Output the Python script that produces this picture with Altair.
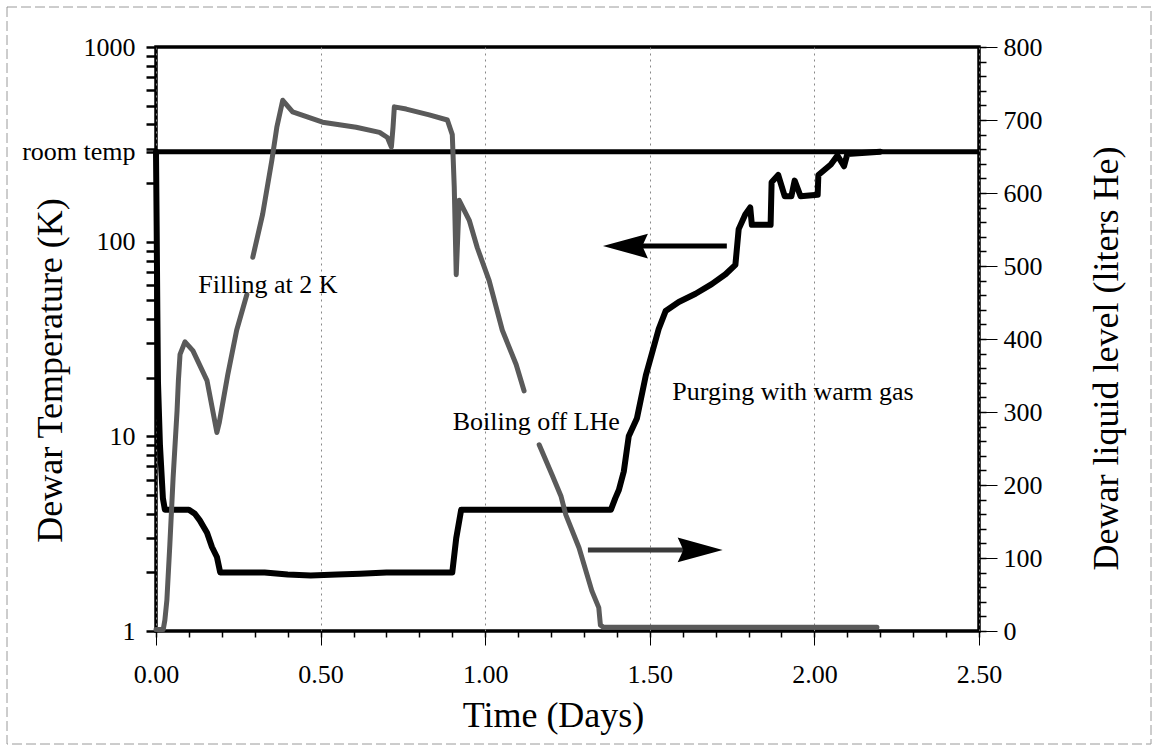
import altair as alt
import pandas as pd

# ---------------- data ----------------
# Dewar temperature (K), left log axis -- black curve
temp_days = [0.000, 0.002, 0.004, 0.006, 0.012, 0.021, 0.027, 0.060, 0.100, 0.118,
             0.133, 0.155, 0.170, 0.185, 0.195, 0.260, 0.330, 0.400, 0.470, 0.550,
             0.620, 0.700, 0.780, 0.850, 0.900, 0.912, 0.927, 1.000, 1.200, 1.382,
             1.395, 1.406, 1.421, 1.436, 1.461, 1.488, 1.510, 1.527, 1.548, 1.588,
             1.639, 1.688, 1.730, 1.760, 1.770, 1.790, 1.805, 1.810, 1.867, 1.870,
             1.890, 1.910, 1.930, 1.940, 1.958, 2.010, 2.012, 2.050, 2.070, 2.090,
             2.100, 2.200]
temp_kelvin = [290, 120, 45, 19, 9.0, 4.8, 4.2, 4.2, 4.2, 4.0,
               3.7, 3.2, 2.7, 2.4, 2.0, 2.0, 2.0, 1.95, 1.93, 1.95,
               1.97, 2.0, 2.0, 2.0, 2.0, 3.0, 4.2, 4.2, 4.2, 4.2,
               4.8, 5.3, 6.6, 10.0, 12.4, 20.6, 28, 35.6, 44, 49,
               54, 60.5, 68, 76, 116, 138, 150, 122, 122, 202,
               220, 171, 171, 206, 171, 174, 220, 249, 277, 244,
               282, 290]

# Dewar liquid level (liters He), right axis -- grey curve (segments break at the labels)
level_days = [0.000, 0.022, 0.027, 0.033, 0.042, 0.052, 0.064, 0.068, 0.073, 0.088,
              0.112, 0.155, 0.185, 0.192, 0.218, 0.245, 0.276,
              0.294, 0.324, 0.352, 0.367, 0.385, 0.415, 0.506, 0.608, 0.679,
              0.703, 0.715, 0.720, 0.724, 0.760, 0.830, 0.885, 0.900, 0.906, 0.912,
              0.921, 0.952, 0.976, 1.012, 1.052, 1.094, 1.118,
              1.164, 1.203, 1.230, 1.245, 1.285, 1.324, 1.345, 1.350, 1.360, 1.600,
              1.900, 2.190]
level_liters = [2, 2, 15, 42, 118, 210, 302, 343, 379, 396,
                384, 343, 272, 285, 351, 412, 461,
                512, 571, 645, 690, 727, 711, 697, 690, 683,
                676, 663, 690, 718, 715, 707, 700, 680, 608, 488,
                590, 562, 525, 480, 412, 365, 329,
                255, 214, 185, 159, 114, 55, 32, 8, 5, 5,
                5, 5]
level_segment = [0] * 17 + [1] * 26 + [2] * 12

# axis tick values
x_major = [0.0, 0.5, 1.0, 1.5, 2.0, 2.5]
x_minor = [0.0, 0.1, 0.2, 0.3, 0.4, 0.5, 0.6, 0.7, 0.8, 0.9, 1.0, 1.1, 1.2,
           1.3, 1.4, 1.5, 1.6, 1.7, 1.8, 1.9, 2.0, 2.1, 2.2, 2.3, 2.4, 2.5]
room_temp = 290
t_major = [1, 10, 100, room_temp, 1000]
t_minor = [2, 3, 4, 5, 6, 7, 8, 9, 20, 30, 40, 50, 60, 70, 80, 90,
           200, 300, 400, 500, 600, 700, 800, 900]
l_major = [0, 100, 200, 300, 400, 500, 600, 700, 800]
l_minor = [0, 20, 40, 60, 80, 100, 120, 140, 160, 180, 200, 220, 240, 260, 280,
           300, 320, 340, 360, 380, 400, 420, 440, 460, 480, 500, 520, 540, 560,
           580, 600, 620, 640, 660, 680, 700, 720, 740, 760, 780, 800]

# annotations
label_text = ["Filling at 2 K", "Boiling off LHe", "Purging with warm gas"]
label_days = [0.34, 1.155, 1.935]
label_kelvin = [60, 11.8, 16.9]

left_arrow_days = [1.43, 1.734]     # shaft start / end (points to left axis)
left_arrow_kelvin = 95
left_head_days = 1.426
right_arrow_days = [1.312, 1.66]    # shaft (points to right axis)
right_arrow_liters = 111
right_head_days = 1.653

FONT = "Liberation Serif"
W, H = 823, 584

xs = alt.Scale(domain=[0, 2.5], nice=False, zero=False)
ts = alt.Scale(type="log", domain=[1, 1000], nice=False)
ls = alt.Scale(domain=[0, 800], nice=False, zero=False)

temp_df = pd.DataFrame({"t": temp_days, "T": temp_kelvin})
level_df = pd.DataFrame({"t": level_days, "L": level_liters, "seg": level_segment})
label_df = pd.DataFrame({"t": label_days, "T": label_kelvin, "txt": label_text})

# ---------------- layers ----------------
temp_line = alt.Chart(temp_df).mark_line(
    color="black", strokeWidth=6, strokeJoin="round", strokeCap="round"
).encode(
    x=alt.X("t:Q", scale=xs, axis=alt.Axis(
        orient="bottom", values=x_major, format=".2f", grid=True,
        gridDash=[2, 4], gridColor="#888", gridWidth=1,
        tickSize=14, tickWidth=1, tickColor="black", labelPadding=16,
        title="Time (Days)", titleX=397, titleY=84, titleAlign="center",
        titleBaseline="middle")),
    y=alt.Y("T:Q", scale=ts, axis=alt.Axis(
        orient="left", values=t_major, format="d",
        labelExpr="datum.value == %d ? 'room temp' : datum.label" % room_temp,
        tickSize=10, tickWidth=2.5, tickColor="black", labelPadding=11,
        grid=False, title="Dewar Temperature (K)", titleAngle=270,
        titleX=-106, titleY=323, titleAlign="center", titleBaseline="middle")),
)

left_minor = alt.Chart(temp_df).mark_point(opacity=0).encode(
    x=alt.X("t:Q", scale=xs, axis=alt.Axis(
        orient="bottom", values=x_minor, labels=False, tickSize=6,
        tickWidth=1.5, tickColor="black", grid=False, title=None)),
    y=alt.Y("T:Q", scale=ts, axis=alt.Axis(
        orient="left", values=t_minor, labels=False, tickSize=10,
        tickWidth=2.5, tickColor="black", grid=False, title=None)),
)

room_rule = alt.Chart(pd.DataFrame({"T": [room_temp]})).mark_rule(
    color="black", strokeWidth=5
).encode(y=alt.Y("T:Q", scale=ts, axis=None))

level_line = alt.Chart(level_df).mark_line(
    color="#5a5a5a", strokeWidth=5, strokeJoin="round", strokeCap="round"
).encode(
    x=alt.X("t:Q", scale=xs, axis=None),
    y=alt.Y("L:Q", scale=ls, axis=alt.Axis(
        orient="right", values=l_major, format="d", tickSize=18, tickWidth=1,
        tickColor="black", labelPadding=6, grid=False,
        title="Dewar liquid level (liters He)", titleAngle=270,
        titleX=127, titleY=311, titleAlign="center", titleBaseline="middle")),
    detail="seg:N",
)

right_minor = alt.Chart(level_df).mark_point(opacity=0).encode(
    x=alt.X("t:Q", scale=xs, axis=None),
    y=alt.Y("L:Q", scale=ls, axis=alt.Axis(
        orient="right", values=l_minor, labels=False, tickSize=7,
        tickWidth=1.5, tickColor="black", grid=False, title=None)),
)

labels = alt.Chart(label_df).mark_text(
    font=FONT, fontSize=26, color="black", align="center", baseline="middle"
).encode(
    x=alt.X("t:Q", scale=xs, axis=None),
    y=alt.Y("T:Q", scale=ts, axis=None),
    text="txt:N",
)

left_shaft = alt.Chart(pd.DataFrame({
    "t": [left_arrow_days[0]], "t2": [left_arrow_days[1]], "T": [left_arrow_kelvin]
})).mark_rule(color="black", strokeWidth=5).encode(
    x=alt.X("t:Q", scale=xs, axis=None), x2="t2:Q",
    y=alt.Y("T:Q", scale=ts, axis=None),
)
left_head = alt.Chart(pd.DataFrame({"t": [left_head_days], "T": [left_arrow_kelvin]})).mark_point(
    shape="M-1,0L1,-0.55L0.75,0L1,0.55Z", size=2025, filled=True, color="black", opacity=1
).encode(
    x=alt.X("t:Q", scale=xs, axis=None),
    y=alt.Y("T:Q", scale=ts, axis=None),
)

right_shaft = alt.Chart(pd.DataFrame({
    "t": [right_arrow_days[0]], "t2": [right_arrow_days[1]], "L": [right_arrow_liters]
})).mark_rule(color="#3a3a3a", strokeWidth=5).encode(
    x=alt.X("t:Q", scale=xs, axis=None), x2="t2:Q",
    y=alt.Y("L:Q", scale=ls, axis=None),
)
right_head = alt.Chart(pd.DataFrame({"t": [right_head_days], "L": [right_arrow_liters]})).mark_point(
    shape="M1,0L-1,-0.55L-0.75,0L-1,0.55Z", size=2025, filled=True, color="black", opacity=1
).encode(
    x=alt.X("t:Q", scale=xs, axis=None),
    y=alt.Y("L:Q", scale=ls, axis=None),
)

frame = alt.Chart(pd.DataFrame({"k": [0]})).mark_rect(
    fillOpacity=0, stroke="#9a9a9a", strokeWidth=1, strokeDash=[10, 4]
).encode(
    x=alt.value(-149), x2=alt.value(995),
    y=alt.value(-40), y2=alt.value(697),
)

chart = alt.layer(
    temp_line, left_minor, room_rule, level_line, right_minor,
    labels, left_shaft, left_head, right_shaft, right_head, frame
).resolve_scale(
    x="independent", y="independent"
).resolve_axis(
    x="independent", y="independent"
).properties(
    width=W, height=H,
    padding={"left": 156, "top": 47, "right": 178, "bottom": 119},
    autosize=alt.AutoSizeParams(type="none"),
    background="white",
).configure_view(
    stroke="black", strokeWidth=3.5
).configure_axis(
    labelFont=FONT, titleFont=FONT, labelFontSize=26, titleFontSize=36,
    labelColor="black", titleColor="black", titleFontWeight="normal",
    domain=False, labelFlush=False, labelOverlap=False
)

chart.save("out.html", embed_options={"renderer": "svg", "actions": False})
